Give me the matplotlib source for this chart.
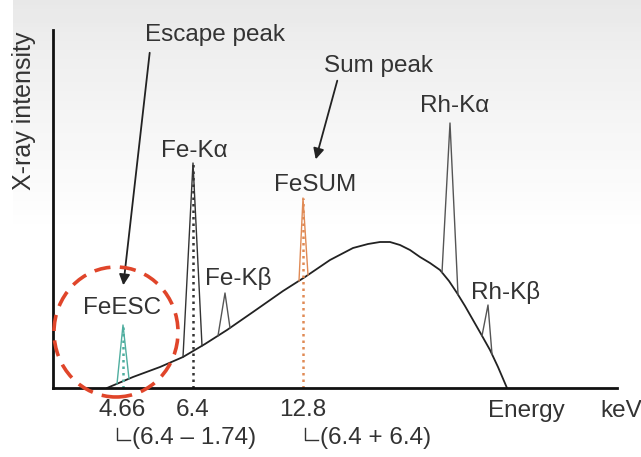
import numpy as np
import matplotlib
matplotlib.use("Agg")
import matplotlib.pyplot as plt
from matplotlib.patches import Ellipse

plt.rcParams['font.family'] = ['Liberation Sans', 'DejaVu Sans']

# schematic spectrum, arbitrary position / intensity units
cont_x = [54, 80, 107, 130, 152, 174, 200, 230, 252, 277, 300, 315, 327, 337, 347, 357, 367,
          377, 387, 396, 404, 412, 420, 428, 437, 445, 454]
cont_y = [0, 11, 21, 31, 44, 58, 76, 97, 111, 128, 140, 144, 146, 146, 143, 138, 131,
          125, 118, 107, 95, 82, 68, 54, 38, 21, 0]

# peaks: left base, center, right base, top
peak_names = ["FeESC", "Fe-Kα", "Fe-Kβ", "FeSUM", "Rh-Kα", "Rh-Kβ"]
peak_left = [64, 130, 165, 246, 389, 429]
peak_center = [70, 140, 172, 250, 397, 435]
peak_right = [76, 149, 177, 255, 405, 439]
peak_top = [63, 225, 95, 190, 265, 83]
peak_color = ["#4fae9f", "#333333", "#555555", "#e08a55", "#555555", "#555555"]
dotted = [True, True, False, True, False, False]

tick_pos = [69, 140, 250]
tick_lab = ["4.66", "6.4", "12.8"]

fig = plt.figure(figsize=(6.41, 4.57), dpi=100)

# light screen grey gradient at the bottom
bg = fig.add_axes([0.02, 0, 0.98, 1], zorder=-1)
grad = np.linspace(1.0, 0.0, 100)
grad = np.clip((grad - 0.5) / 0.5, 0, 1)[:, None]
bg.imshow(grad, aspect='auto', cmap='Greys', vmin=0, vmax=6, extent=[0, 1, 0, 1])
bg.axis('off')

ax = fig.add_axes([53/641, 69/457, 564/641, 358/457])
ax.set_xlim(0, 564)
ax.set_ylim(0, 358)
ax.patch.set_alpha(0)
for s in ['top', 'right']:
    ax.spines[s].set_visible(False)
for s in ['left', 'bottom']:
    ax.spines[s].set_linewidth(2)
    ax.spines[s].set_color('#111111')

ax.plot(cont_x, cont_y, color='#222222', lw=1.3)

for i in range(len(peak_names)):
    yl = np.interp(peak_left[i], cont_x, cont_y)
    yr = np.interp(peak_right[i], cont_x, cont_y)
    ax.plot([peak_left[i], peak_center[i], peak_right[i]], [yl, peak_top[i], yr],
            color=peak_color[i], lw=1.0)
    if dotted[i]:
        ax.plot([peak_center[i], peak_center[i]], [0, peak_top[i]],
                color=peak_color[i], lw=1.8, ls=(0, (1, 1.6)))

fs = 17.5
tc = '#333333'
# peak labels
ax.text(69, 80, "FeESC", ha='center', va='center', fontsize=fs, color=tc)
ax.text(141, 237, "Fe-Kα", ha='center', va='center', fontsize=fs, color=tc)
ax.text(185, 110, "Fe-Kβ", ha='center', va='center', fontsize=fs, color=tc)
ax.text(262, 203, "FeSUM", ha='center', va='center', fontsize=fs, color=tc)
ax.text(402, 282, "Rh-Kα", ha='center', va='center', fontsize=fs, color=tc)
ax.text(453, 96, "Rh-Kβ", ha='center', va='center', fontsize=fs, color=tc)

# callouts
ax.annotate("", xy=(70, 100), xytext=(97, 338),
            arrowprops=dict(arrowstyle='-|>', color='#222222', lw=1.3, mutation_scale=16))
ax.text(162, 353, "Escape peak", ha='center', va='center', fontsize=fs, color=tc)
ax.annotate("", xy=(262, 226), xytext=(285, 310),
            arrowprops=dict(arrowstyle='-|>', color='#222222', lw=1.3, mutation_scale=16))
ax.text(325, 322, "Sum peak", ha='center', va='center', fontsize=fs, color=tc)

ax.add_patch(Ellipse((63, 56), 124, 130, fill=False, ec='#e0452a', lw=2.6,
                     ls=(0, (4.5, 2.6)), clip_on=False, zorder=5))

ax.set_xticks(tick_pos)
ax.set_xticklabels(tick_lab, fontsize=fs, color=tc)
ax.tick_params(axis='x', length=0, pad=8)
ax.set_yticks([])

ax.text(473, -23, "Energy", ha='center', va='center', fontsize=fs, color=tc)
ax.text(547, -23, "keV", ha='left', va='center', fontsize=fs, color=tc)

# "└" markers under the tick labels
for x0, txt in [(64, "(6.4 – 1.74)"), (252, "(6.4 + 6.4)")]:
    ax.plot([x0, x0, x0 + 13], [-40, -52, -52], color=tc, lw=1.0, clip_on=False)
    ax.text(x0 + 15, -50, txt, ha='left', va='center', fontsize=fs, color=tc)

ax.set_ylabel("X-ray intensity", fontsize=18, color=tc)
ax.yaxis.set_label_coords(-17/564, 277/358)

fig.savefig("out.png", dpi=100)
